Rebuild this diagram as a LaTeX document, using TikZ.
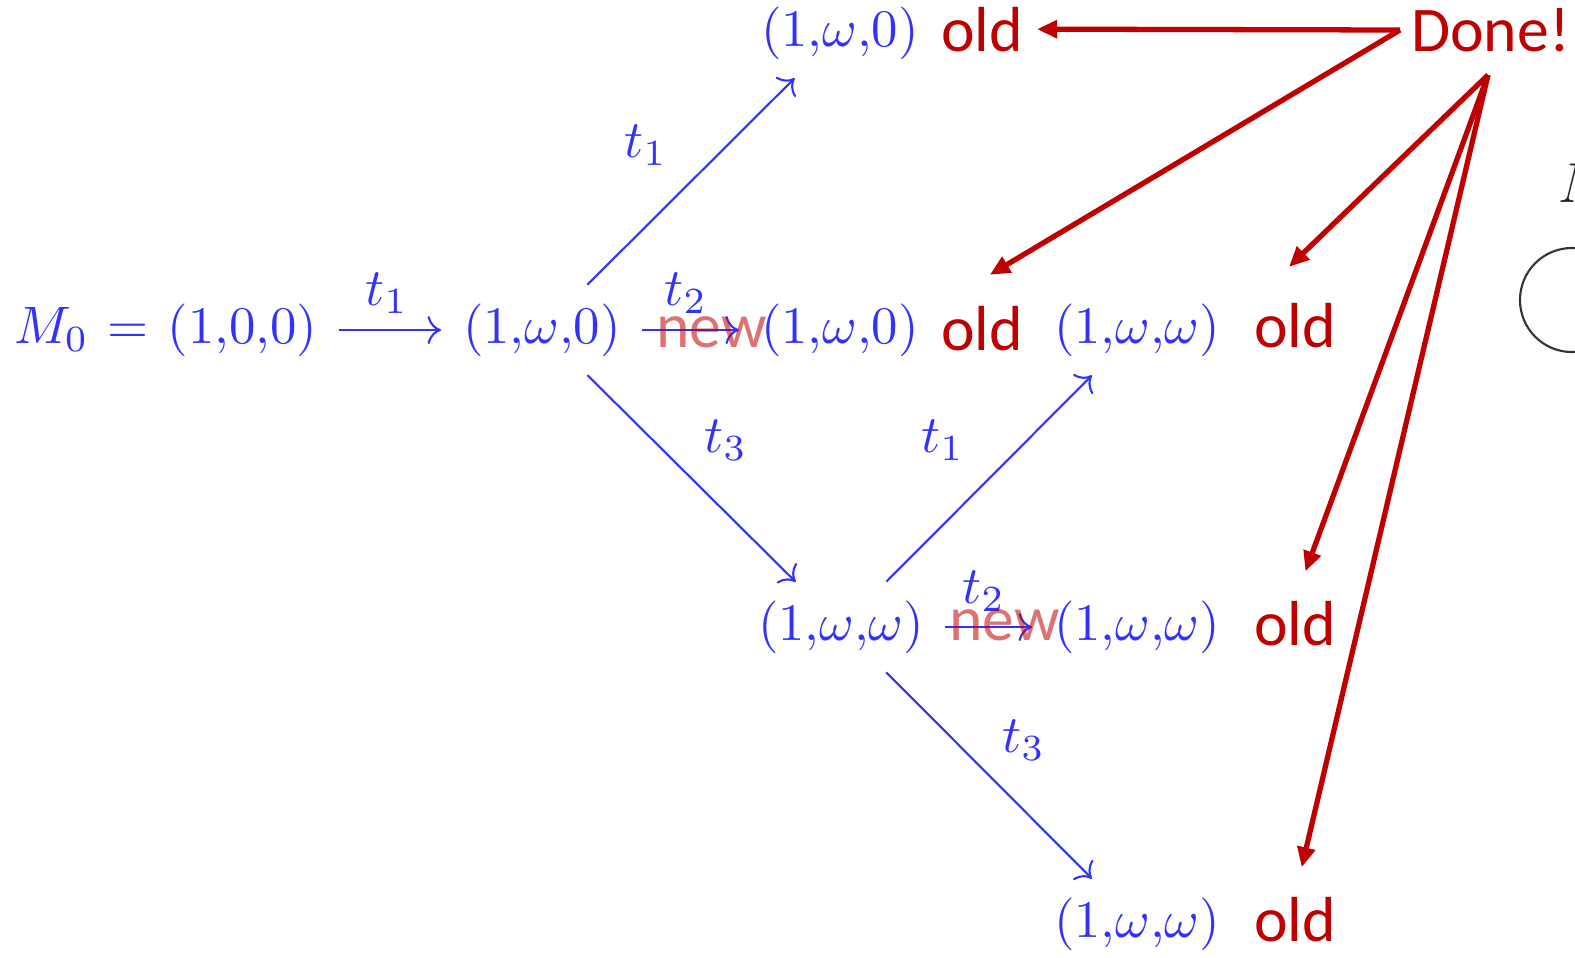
\documentclass[tikz,border=0pt]{standalone}
\usepackage{fontspec}
\newfontfamily\calibri{Carlito}
\usetikzlibrary{arrows.meta}
\definecolor{mblue}{RGB}{50,50,255}
\definecolor{dred}{RGB}{192,0,0}
\begin{document}
\begin{tikzpicture}[x=0.01cm,y=-0.01cm,
  mth/.style={text=mblue, inner sep=0pt, scale=1.5},
  redt/.style={text=dred, inner sep=0pt, anchor=base west, font=\calibri, scale=1.81},
  newt/.style={redt, text opacity=0.55},
  tr/.style={draw=mblue, line width=0.6pt, -{Computer Modern Rightarrow[scale=1.3]}},
  dg/.style={tr, shorten <=0.64cm, shorten >=0.64cm},
  hz/.style={tr, shorten <=0.2cm, shorten >=0.21cm},
  ra/.style={draw=dred, line width=1.5pt, -{Triangle[length=5.7pt,width=5pt]}}]
\useasboundingbox (0,0) rectangle (1575,957);
% blue markings
\node[mth, anchor=west] (m0) at (13,330) {$M_0 \mkern1.5mu= \mkern1.5mu(1{,}0{,}0)$};
\node[mth, anchor=west] (a) at (462,330) {$(1{,}\omega{,}0)$};
\node[mth, anchor=west] (top) at (760,33) {$(1{,}\omega{,}0)$};
\node[mth, anchor=west] (b) at (760,330) {$(1{,}\omega{,}0)$};
\node[mth, anchor=west] (d) at (1053,330) {$(1{,}\omega{,}\omega)$};
\node[mth, anchor=west] (c) at (757,627) {$(1{,}\omega{,}\omega)$};
\node[mth, anchor=west] (e) at (1053,627) {$(1{,}\omega{,}\omega)$};
\node[mth, anchor=west] (f) at (1053,924) {$(1{,}\omega{,}\omega)$};
% transition labels
\node[mth] (l1) at (387,293) {$t_1$};
\node[mth] (l2) at (646,145) {$t_1$};
\node[mth] (l3) at (686,293) {$t_2$};
\node[mth] (l4) at (726,440) {$t_3$};
\node[mth] (l5) at (943,440) {$t_1$};
\node[mth] (l6) at (984,591) {$t_2$};
\node[mth] (l7) at (1024,740) {$t_3$};
% blue arrows
\draw[hz] (m0.east) -- (a.west);
\draw[dg] (a.center) -- (top.center);
\draw[hz] (a.east) -- (b.west);
\draw[dg] (a.center) -- (c.center);
\draw[dg] (c.center) -- (d.center);
\draw[hz] (c.east) -- (e.west);
\draw[dg] (c.center) -- (f.center);
% red annotations
\node[newt] (n1) at (655,347) {new};
\node[newt] (n2) at (948,640) {new};
\node[redt] (o1) at (940,51) {old};
\node[redt] (o2) at (940,350) {old};
\node[redt] (o3) at (1253,347) {old};
\node[redt] (o4) at (1253,645) {old};
\node[redt] (o5) at (1253,941) {old};
\node[redt] (done) at (1410,51) {Done!};
\coordinate (dw) at (1400,30);
\coordinate (ds) at (1488,75);
\draw[ra, shorten >=0.13cm] (dw) -- (o1.east);
\draw[ra, shorten >=0.58cm] (dw) -- (o2.north west);
\draw[ra, shorten >=0.5cm] (ds) -- (o3.north west);
\draw[ra, shorten >=0.3cm] (ds) -- (o4.north);
\draw[ra, shorten >=0.29cm] (ds) -- (o5.north);
% partly visible items at the right edge
\begin{scope}
\clip (0,0) rectangle (1575,957);
\draw[line width=0.6pt, black!80] (1572,300) circle[radius=0.52cm];
\node[anchor=base west, inner sep=0pt, scale=1.6, text=black!85] (pm) at (1557,202) {$M$};
\end{scope}
\end{tikzpicture}
\end{document}
